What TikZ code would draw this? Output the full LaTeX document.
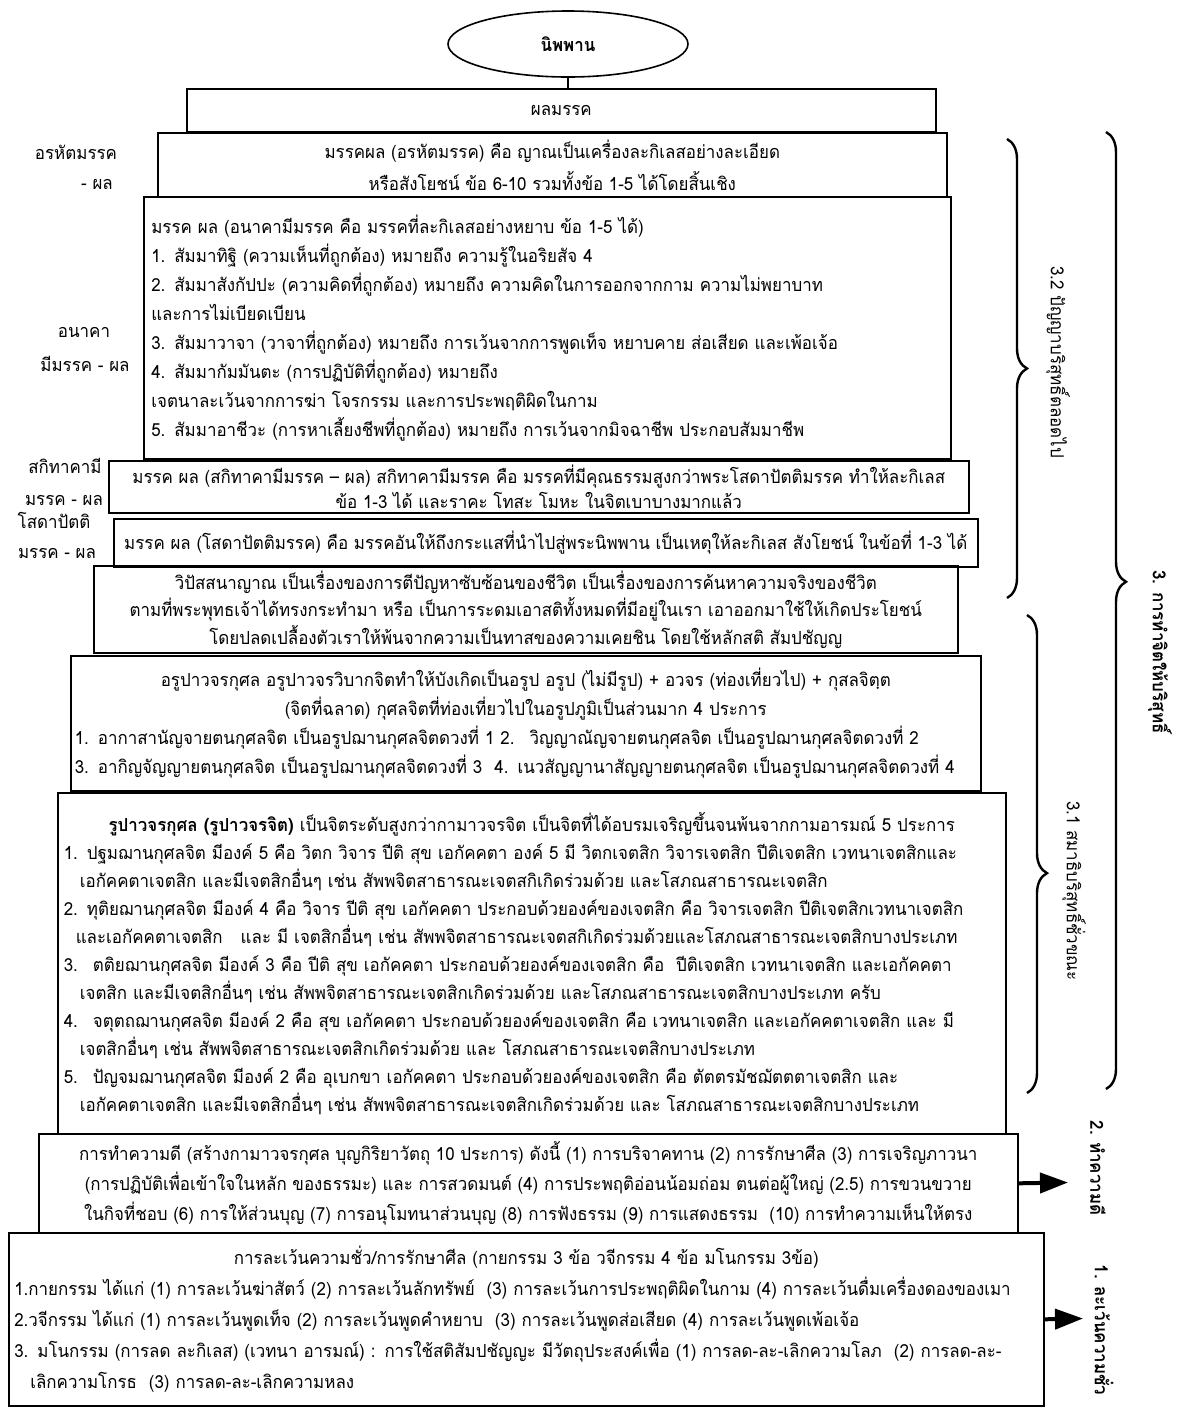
\documentclass[tikz,border=0pt]{standalone}
\usepackage{fontspec}
\newfontfamily\thaifont[Script=Thai,FakeStretch=0.94]{Loma}
\usetikzlibrary{arrows.meta}
\usetikzlibrary{shapes.geometric}
\usetikzlibrary{decorations.pathreplacing}

\newcommand{\midline}[1]{\hspace*{\fill}#1\hspace*{\fill}\mbox{}}
\newcommand{\thsize}[1]{\thaifont\fontsize{9}{#1}\selectfont}

\begin{document}
\begin{tikzpicture}[x=0.5pt,y=-0.5pt,>=latex,
    every node/.style={font=\thsize{14pt}},
    panel/.style 2 args={draw,line width=0.8pt,anchor=north west,inner sep=0pt,minimum width=#1,minimum height=#2},
    side/.style={inner sep=1pt},
    vlabel/.style={rotate=-90,inner sep=1pt},
    curly/.style={decorate,decoration={brace,amplitude=10pt,aspect=#1},line width=1.2pt},
    curly/.default=0.5,
    pointer/.style={line width=2pt,-{Triangle[length=14pt,width=10pt]}}]

        \fill[white] (0,0) rectangle (1196,1410);
        \useasboundingbox (0,0) rectangle (1196,1410);

        \node[ellipse,draw,line width=0.8pt,minimum width=120pt,minimum height=33pt,inner sep=0pt,font=\thsize{14pt}\bfseries] (nibbana) at (568,44) {นิพพาน};

        \node[panel={374.5pt}{21.5pt}] (phala) at (186,88) {ผลมรรค};
        \node[panel={394.5pt}{32pt},align=center,font=\thsize{16pt}] (arahat) at (157,132)
            {มรรคผล (อรหัตมรรค) คือ ญาณเป็นเครื่องละกิเลสอย่างละเอียด\\
             หรือสังโยชน์ ข้อ 6-10 รวมทั้งข้อ 1-5 ได้โดยสิ้นเชิง};
        \node[panel={403.5pt}{131pt},text width=396pt,align=left,font=\thsize{14.5pt}] (anagami) at (143,196)
            {มรรค ผล (อนาคามีมรรค คือ มรรคที่ละกิเลสอย่างหยาบ ข้อ 1-5 ได้)\\
             1. สัมมาทิฐิ (ความเห็นที่ถูกต้อง) หมายถึง ความรู้ในอริยสัจ 4\\
             2. สัมมาสังกัปปะ (ความคิดที่ถูกต้อง) หมายถึง ความคิดในการออกจากกาม ความไม่พยาบาท\\
             และการไม่เบียดเบียน\\
             3. สัมมาวาจา (วาจาที่ถูกต้อง) หมายถึง การเว้นจากการพูดเท็จ หยาบคาย ส่อเสียด และเพ้อเจ้อ\\
             4. สัมมากัมมันตะ (การปฏิบัติที่ถูกต้อง) หมายถึง\\
             เจตนาละเว้นจากการฆ่า โจรกรรม และการประพฤติผิดในกาม\\
             5. สัมมาอาชีวะ (การหาเลี้ยงชีพที่ถูกต้อง) หมายถึง การเว้นจากมิจฉาชีพ ประกอบสัมมาชีพ};
        \node[panel={430pt}{26pt},align=center,font=\thsize{12.5pt}] (sakadagami) at (108,460)
            {มรรค ผล (สกิทาคามีมรรค – ผล) สกิทาคามีมรรค คือ มรรคที่มีคุณธรรมสูงกว่าพระโสดาปัตติมรรค ทำให้ละกิเลส\\
             ข้อ 1-3 ได้ และราคะ โทสะ โมหะ ในจิตเบาบางมากแล้ว};
        \node[panel={432pt}{24pt}] (sotapanna) at (113,518)
            {มรรค ผล (โสดาปัตติมรรค) คือ มรรคอันให้ถึงกระแสที่นำไปสู่พระนิพพาน เป็นเหตุให้ละกิเลส สังโยชน์ ในข้อที่ 1-3 ได้};
        \node[panel={432pt}{43.5pt},align=center,font=\thsize{13.75pt}] (vipassana) at (93,565)
            {วิปัสสนาญาณ เป็นเรื่องของการตีปัญหาซับซ้อนของชีวิต เป็นเรื่องของการค้นหาความจริงของชีวิต\\
             ตามที่พระพุทธเจ้าได้ทรงกระทำมา หรือ เป็นการระดมเอาสติทั้งหมดที่มีอยู่ในเรา เอาออกมาใช้ให้เกิดประโยชน์\\
             โดยปลดเปลื้องตัวเราให้พ้นจากความเป็นทาสของความเคยชิน โดยใช้หลักสติ สัมปชัญญ};
        \node[panel={455pt}{67.5pt},text width=451pt,align=left,font=\thsize{14.5pt}] (arupa) at (70,655)
            {\midline{อรูปาวจรกุศล อรูปาวจรวิบากจิตทำให้บังเกิดเป็นอรูป อรูป (ไม่มีรูป) + อวจร (ท่องเที่ยวไป) + กุสลจิตฺต}\\
             \midline{(จิตที่ฉลาด) กุศลจิตที่ท่องเที่ยวไปในอรูปภูมิเป็นส่วนมาก 4 ประการ}\\
             1. อากาสานัญจายตนกุศลจิต เป็นอรูปฌานกุศลจิตดวงที่ 1 2.~ วิญญาณัญจายตนกุศลจิต เป็นอรูปฌานกุศลจิตดวงที่ 2\\
             3. อากิญจัญญายตนกุศลจิต เป็นอรูปฌานกุศลจิตดวงที่ 3~ 4. เนวสัญญานาสัญญายตนกุศลจิต เป็นอรูปฌานกุศลจิตดวงที่ 4};
        \node[panel={474pt}{170.5pt},text width=468pt,align=left,font=\thsize{14pt}] (rupa) at (57,792)
            {\midline{\textbf{รูปาวจรกุศล (รูปาวจรจิต)} เป็นจิตระดับสูงกว่ากามาวจรจิต เป็นจิตที่ได้อบรมเจริญขึ้นจนพ้นจากกามอารมณ์ 5 ประการ}\\
             1. ปฐมฌานกุศลจิต มีองค์ 5 คือ วิตก วิจาร ปีติ สุข เอกัคคตา องค์ 5 มี วิตกเจตสิก วิจารเจตสิก ปีติเจตสิก เวทนาเจตสิกและ\\
             \hspace*{8pt}เอกัคคตาเจตสิก และมีเจตสิกอื่นๆ เช่น สัพพจิตสาธารณะเจตสกิเกิดร่วมด้วย และโสภณสาธารณะเจตสิก\\
             2. ทุติยฌานกุศลจิต มีองค์ 4 คือ วิจาร ปีติ สุข เอกัคคตา ประกอบด้วยองค์ของเจตสิก คือ วิจารเจตสิก ปีติเจตสิกเวทนาเจตสิก\\
             \hspace*{6pt}และเอกัคคตาเจตสิก~~ และ มี เจตสิกอื่นๆ เช่น สัพพจิตสาธารณะเจตสกิเกิดร่วมด้วยและโสภณสาธารณะเจตสิกบางประเภท\\
             3.~ ตติยฌานกุศลจิต มีองค์ 3 คือ ปีติ สุข เอกัคคตา ประกอบด้วยองค์ของเจตสิก คือ~ ปีติเจตสิก เวทนาเจตสิก และเอกัคคตา\\
             \hspace*{8pt}เจตสิก และมีเจตสิกอื่นๆ เช่น สัพพจิตสาธารณะเจตสิกเกิดร่วมด้วย และโสภณสาธารณะเจตสิกบางประเภท ครับ\\
             4.~ จตุตถฌานกุศลจิต มีองค์ 2 คือ สุข เอกัคคตา ประกอบด้วยองค์ของเจตสิก คือ เวทนาเจตสิก และเอกัคคตาเจตสิก และ มี\\
             \hspace*{8pt}เจตสิกอื่นๆ เช่น สัพพจิตสาธารณะเจตสิกเกิดร่วมด้วย และ โสภณสาธารณะเจตสิกบางประเภท\\
             5.~ ปัญจมฌานกุศลจิต มีองค์ 2 คือ อุเบกขา เอกัคคตา ประกอบด้วยองค์ของเจตสิก คือ ตัตตรมัชฌัตตตาเจตสิก และ\\
             \hspace*{8pt}เอกัคคตาเจตสิก และมีเจตสิกอื่นๆ เช่น สัพพจิตสาธารณะเจตสิกเกิดร่วมด้วย และ โสภณสาธารณะเจตสิกบางประเภท};
        \node[panel={489.5pt}{49.5pt},align=center,font=\thsize{15pt}] (kusala) at (38,1133)
            {การทำความดี (สร้างกามาวจรกุศล บุญกิริยาวัตถุ 10 ประการ) ดังนี้ (1) การบริจาคทาน (2) การรักษาศีล (3) การเจริญภาวนา\\
             (การปฏิบัติเพื่อเข้าใจในหลัก ของธรรมะ) และ การสวดมนต์ (4) การประพฤติอ่อนน้อมถ่อม ตนต่อผู้ใหญ่ (2.5) การขวนขวาย\\
             ในกิจที่ชอบ (6) การให้ส่วนบุญ (7) การอนุโมทนาส่วนบุญ (8) การฟังธรรม (9) การแสดงธรรม~ (10) การทำความเห็นให้ตรง};
        \node[panel={517.5pt}{86.5pt},text width=512pt,align=left,font=\thsize{15.5pt}] (sila) at (8,1232)
            {\midline{การละเว้นความชั่ว/การรักษาศีล (กายกรรม 3 ข้อ วจีกรรม 4 ข้อ มโนกรรม 3ข้อ)}\\
             1.กายกรรม ได้แก่ (1) การละเว้นฆ่าสัตว์ (2) การละเว้นลักทรัพย์~ (3) การละเว้นการประพฤติผิดในกาม (4) การละเว้นดื่มเครื่องดองของเมา\\
             2.วจีกรรม ได้แก่ (1) การละเว้นพูดเท็จ (2) การละเว้นพูดคำหยาบ~ (3) การละเว้นพูดส่อเสียด (4) การละเว้นพูดเพ้อเจ้อ\\
             3. มโนกรรม (การลด ละกิเลส) (เวทนา อารมณ์) : การใช้สติสัมปชัญญะ มีวัตถุประสงค์เพื่อ (1) การลด-ละ-เลิกความโลภ~ (2) การลด-ละ-\\
             \hspace*{8pt}เลิกความโกรธ~ (3) การลด-ละ-เลิกความหลง};

        \draw[line width=0.6pt] (nibbana.south) -- (nibbana.south |- phala.north);

        \node[side] (arahatA) at (76,152) {อรหัตมรรค};
        \node[side] (arahatB) at (97,184) {- ผล};
        \node[side] (anagamiA) at (84,332) {อนาคา};
        \node[side] (anagamiB) at (85,364) {มีมรรค - ผล};
        \node[side] (sakadaA) at (65,466) {สกิทาคามี};
        \node[side] (sakadaB) at (64,500) {มรรค - ผล};
        \node[side] (sotaA) at (54,520) {โสดาปัตติ};
        \node[side] (sotaB) at (57,553) {มรรค - ผล};

        \coordinate (pannaTop) at (1007,139);
        \coordinate (pannaBot) at (1007,598);
        \coordinate (samadhiTop) at (1027,615);
        \coordinate (samadhiBot) at (1027,1093);
        \coordinate (cittaTop) at (1106,132);
        \coordinate (cittaBot) at (1106,1089);
        \draw[curly] (pannaTop) -- (pannaBot);
        \draw[curly=0.54] (samadhiTop) -- (samadhiBot);
        \draw[curly=0.47] (cittaTop) -- (cittaBot);

        \node[vlabel] (panna) at (1058,362) {3.2 ปัญญาบริสุทธิ์ตลอดไป};
        \node[vlabel] (samadhi) at (1074,891) {3.1 สมาธิบริสุทธิ์ชั่วขณะ};
        \node[vlabel,font=\thsize{14pt}\bfseries] (citta) at (1160,652) {3. การทำจิตให้บริสุทธิ์};
        \node[vlabel,font=\thsize{14pt}\bfseries] (dogood) at (1098,1168) {2. ทำความดี};
        \node[vlabel,font=\thsize{14pt}\bfseries] (noevil) at (1104,1330) {1. ละเว้นความชั่ว};

        \coordinate (goodTip) at (1068,1182.5);
        \coordinate (evilTip) at (1083,1318.5);
        \draw[pointer] (kusala.east) -- (goodTip);
        \draw[pointer] (sila.east) -- (evilTip);
    \end{tikzpicture}
\end{document}
